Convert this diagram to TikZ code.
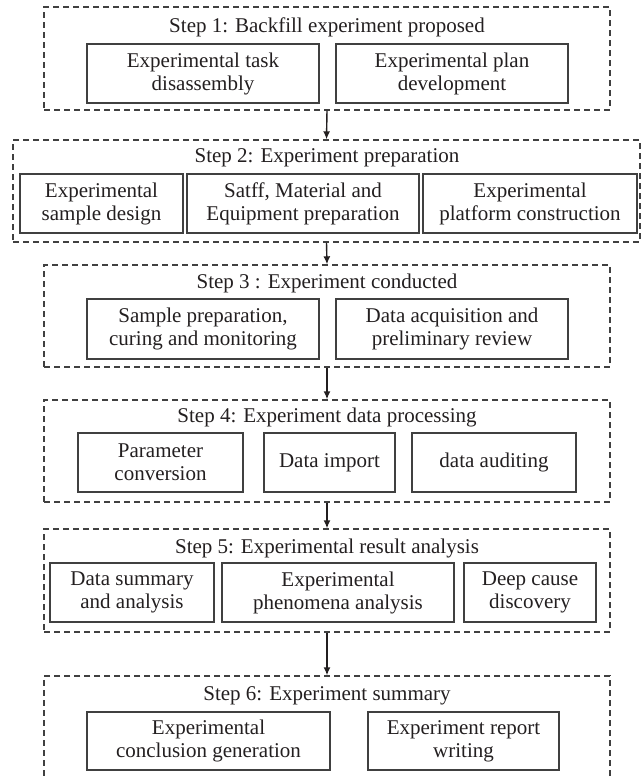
\documentclass[tikz,border=0pt]{standalone}
\usepackage{fontspec}
\setmainfont{Liberation Serif}
\usetikzlibrary{positioning, fit, arrows.meta}
\definecolor{lineColor}{RGB}{64,64,64}
\definecolor{textColor}{RGB}{35,31,32}
\tikzstyle{chart} = [x = 0.5pt, y = -0.5pt, font=\fontsize{10.5}{11.5}\selectfont, text=textColor]
\tikzstyle{stepFrameStyle} = [draw=lineColor, dash pattern=on 3pt off 2pt, line width=0.7pt, inner sep=0pt]
\tikzstyle{taskBoxStyle} = [draw=lineColor, line width=0.8pt, align=center, inner sep=0pt]
\tikzstyle{stepTitleStyle} = [inner sep=0pt]
\tikzstyle{stepArrow} = [-{Latex[length=4pt, width=3.5pt]}, line width=0.7pt, color=textColor]
\newcommand{\stepFrame}[5]{\coordinate (#1a) at (#2, #3); \coordinate (#1b) at (#4, #5); \node [stepFrameStyle, fit = (#1a) (#1b)] (#1) {};}
\newcommand{\taskBox}[6]{\node [taskBoxStyle, minimum width = (#4 - #2) * 0.5pt, minimum height = (#5 - #3) * 0.5pt] (#1) at ({(#2 + #4) / 2}, {(#3 + #5) / 2}) {#6};}
\newcommand{\stepTitle}[3]{\node [stepTitleStyle] (#1) at (327, #2) {#3};}

\begin{document}
\begin{tikzpicture}[chart]
  \useasboundingbox (0,0) rectangle (643,777);
  \clip (0,0) rectangle (643,777);
  % step 1
  \stepFrame{step1}{44}{7}{610}{110}
  \stepTitle{title1}{27}{Step 1: Backfill experiment proposed}
  \taskBox{taskA}{87}{44}{319}{103}{Experimental task\\disassembly}
  \taskBox{planA}{336}{44}{568}{103}{Experimental plan\\development}
  % step 2
  \stepFrame{step2}{13}{140}{640}{242}
  \stepTitle{title2}{158}{Step 2: Experiment preparation}
  \taskBox{sampleB}{20}{174}{183}{233}{Experimental\\sample design}
  \taskBox{staffB}{187}{174}{419}{233}{Satff, Material and\\Equipment preparation}
  \taskBox{platformB}{423}{174}{637}{233}{Experimental\\platform construction}
  % step 3
  \stepFrame{step3}{44}{265}{610}{367}
  \stepTitle{title3}{283}{Step 3 : Experiment conducted}
  \taskBox{curingC}{87}{299}{319}{359}{Sample preparation,\\curing and monitoring}
  \taskBox{acquireC}{336}{299}{568}{359}{Data acquisition and\\preliminary review}
  % step 4
  \stepFrame{step4}{44}{400}{610}{502}
  \stepTitle{title4}{417}{Step 4: Experiment data processing}
  \taskBox{paramD}{78}{433}{243}{492}{Parameter\\conversion}
  \taskBox{importD}{264}{433}{395}{492}{Data import}
  \taskBox{auditD}{412}{433}{576}{492}{data auditing}
  % step 5
  \stepFrame{step5}{44}{529}{610}{632}
  \stepTitle{title5}{548}{Step 5: Experimental result analysis}
  \taskBox{summaryE}{50}{563}{214}{622}{Data summary\\and analysis}
  \taskBox{phenoE}{222}{563}{454}{622}{Experimental\\phenomena analysis}
  \taskBox{causeE}{464}{563}{596}{622}{Deep cause\\discovery}
  % step 6
  \stepFrame{step6}{44}{676}{610}{800}
  \stepTitle{title6}{696}{Step 6: Experiment summary}
  \taskBox{conclF}{87}{712}{330}{770}{Experimental\\conclusion generation}
  \taskBox{reportF}{368}{712}{559}{770}{Experiment report\\writing}
  % arrows
  \foreach \from/\to in {step1/step2, step2/step3, step3/step4, step4/step5, step5/step6}
    \draw [stepArrow] (\from.south) -- (\to.north);
\end{tikzpicture}
\end{document}
